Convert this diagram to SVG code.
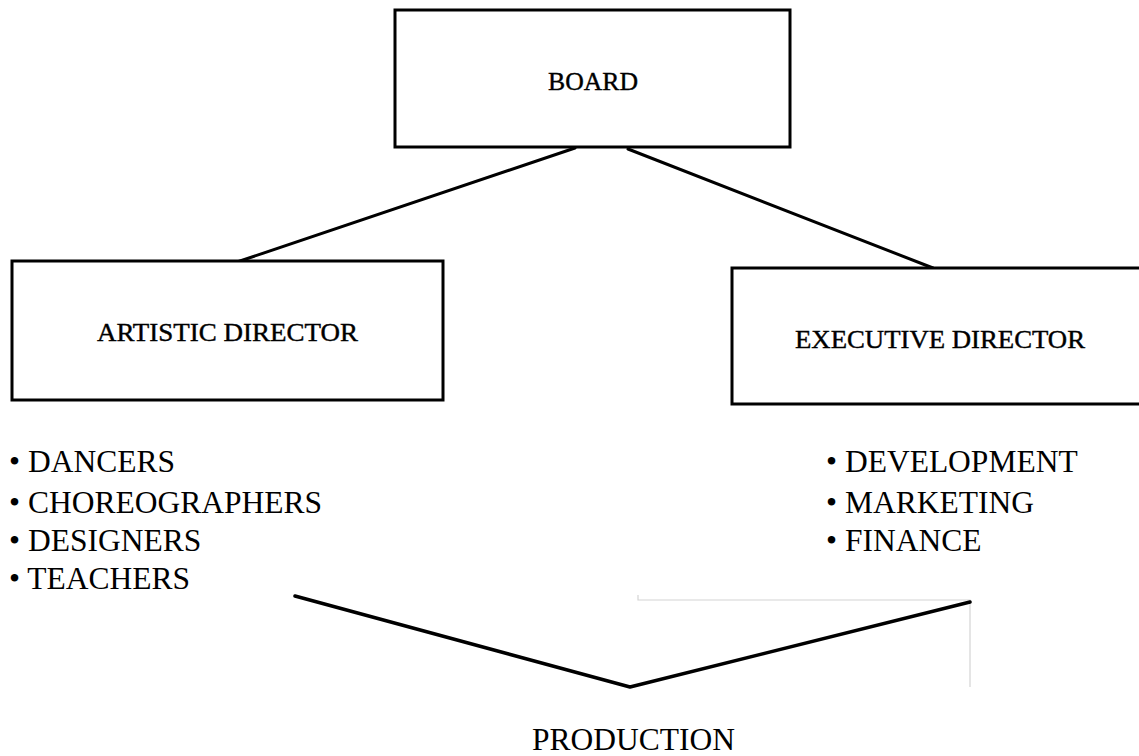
<svg xmlns="http://www.w3.org/2000/svg" width="1139" height="756" viewBox="0 0 1139 756">
<style>
.box{fill:#fff;stroke:#000;stroke-width:3}
.lbl{font-family:"Liberation Serif","Times New Roman",serif;font-size:25px;fill:#000;stroke:#000;stroke-width:0.4}
.item{font-family:"Liberation Serif","Times New Roman",serif;font-size:31.5px;fill:#000}
.conn{fill:none;stroke:#000;stroke-width:3;stroke-linecap:round;stroke-linejoin:round}
.faint{fill:none;stroke:#d4d4d4;stroke-width:1.2}
</style>
<rect width="1139" height="756" fill="#fff"/>
<g id="connectors">
<line class="conn" x1="575" y1="148" x2="237" y2="262"/>
<line class="conn" x1="628" y1="149" x2="933" y2="268"/>
<polyline class="faint" points="638,595 638,600 970,600 970,687"/>
<polyline class="conn" style="stroke-width:3.5" points="295,596 630,687 970,602"/>
</g>
<g id="board">
<rect class="box" x="395" y="10" width="395" height="137"/>
<text class="lbl" x="548" y="90" textLength="90" lengthAdjust="spacingAndGlyphs">BOARD</text>
</g>
<g id="artistic-director">
<rect class="box" x="12" y="261" width="431" height="139"/>
<text class="lbl" x="97" y="341" textLength="261" lengthAdjust="spacingAndGlyphs">ARTISTIC DIRECTOR</text>
</g>
<g id="executive-director">
<path class="box" d="M1142,268 H732 V404 H1142"/>
<text class="lbl" x="795" y="348" textLength="290" lengthAdjust="spacingAndGlyphs">EXECUTIVE DIRECTOR</text>
</g>
<g id="artistic-list">
<text class="item" x="9" y="472">• DANCERS</text>
<text class="item" x="9" y="513">• CHOREOGRAPHERS</text>
<text class="item" x="9" y="551">• DESIGNERS</text>
<text class="item" x="9" y="589">• TEACHERS</text>
</g>
<g id="executive-list">
<text class="item" x="826" y="472">• DEVELOPMENT</text>
<text class="item" x="826" y="513">• MARKETING</text>
<text class="item" x="826" y="551">• FINANCE</text>
</g>
<g id="production">
<text class="item" x="532" y="750">PRODUCTION</text>
</g>
</svg>
